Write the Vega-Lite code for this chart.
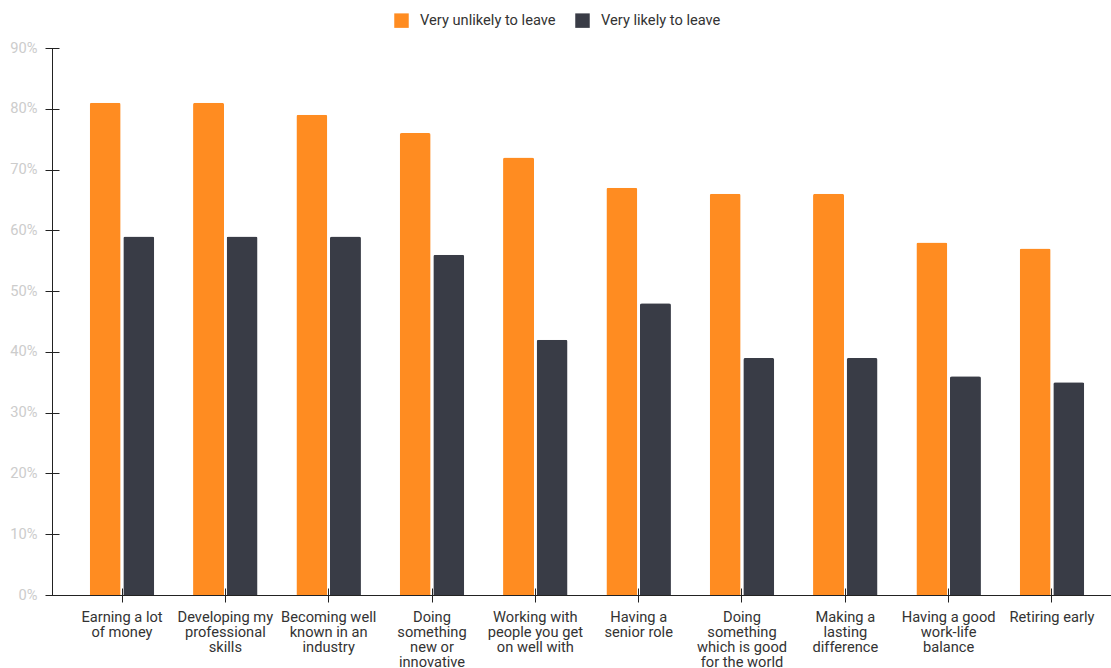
{
  "$schema": "https://vega.github.io/schema/vega-lite/v6.json",
  "width": 1070,
  "height": 547,
  "autosize": {"type": "none"},
  "padding": {"left": 52, "top": 48, "right": 0, "bottom": 73},
  "config": {"view": {"stroke": null}, "font": "Roboto"},
  "data": {
    "values": [
      {"category": "Earning a lot of money", "series": "Very unlikely to leave", "value": 81},
      {"category": "Earning a lot of money", "series": "Very likely to leave", "value": 59},
      {"category": "Developing my professional skills", "series": "Very unlikely to leave", "value": 81},
      {"category": "Developing my professional skills", "series": "Very likely to leave", "value": 59},
      {"category": "Becoming well known in an industry", "series": "Very unlikely to leave", "value": 79},
      {"category": "Becoming well known in an industry", "series": "Very likely to leave", "value": 59},
      {"category": "Doing something new or innovative", "series": "Very unlikely to leave", "value": 76},
      {"category": "Doing something new or innovative", "series": "Very likely to leave", "value": 56},
      {"category": "Working with people you get on well with", "series": "Very unlikely to leave", "value": 72},
      {"category": "Working with people you get on well with", "series": "Very likely to leave", "value": 42},
      {"category": "Having a senior role", "series": "Very unlikely to leave", "value": 67},
      {"category": "Having a senior role", "series": "Very likely to leave", "value": 48},
      {"category": "Doing something which is good for the world", "series": "Very unlikely to leave", "value": 66},
      {"category": "Doing something which is good for the world", "series": "Very likely to leave", "value": 39},
      {"category": "Making a lasting difference", "series": "Very unlikely to leave", "value": 66},
      {"category": "Making a lasting difference", "series": "Very likely to leave", "value": 39},
      {"category": "Having a good work-life balance", "series": "Very unlikely to leave", "value": 58},
      {"category": "Having a good work-life balance", "series": "Very likely to leave", "value": 36},
      {"category": "Retiring early", "series": "Very unlikely to leave", "value": 57},
      {"category": "Retiring early", "series": "Very likely to leave", "value": 35}
    ]
  },
  "layer": [
    {
      "mark": {"type": "bar", "cornerRadiusTopLeft": 2, "cornerRadiusTopRight": 2},
      "encoding": {
        "x": {
          "field": "category", "type": "nominal", "sort": null, "title": null,
          "scale": {"paddingInner": 0.375, "paddingOuter": 0.365},
          "axis": {
            "orient": "bottom", "offset": -7, "tickSize": 14, "domain": false, "labelAngle": 0,
            "labelExpr": "({'Earning a lot of money': ['Earning a lot','of money'], 'Developing my professional skills': ['Developing my','professional','skills'], 'Becoming well known in an industry': ['Becoming well','known in an','industry'], 'Doing something new or innovative': ['Doing','something','new or','innovative'], 'Working with people you get on well with': ['Working with','people you get','on well with'], 'Having a senior role': ['Having a','senior role'], 'Doing something which is good for the world': ['Doing','something','which is good','for the world'], 'Making a lasting difference': ['Making a','lasting','difference'], 'Having a good work-life balance': ['Having a good','work-life','balance'], 'Retiring early': ['Retiring early']})[datum.label]",
            "labelFontSize": 14.67, "labelColor": "#333333", "tickColor": "#222222", "labelPadding": 7,
            "labelLineHeight": 15, "labelLimit": 0, "labelBaseline": "top"
          }
        },
        "xOffset": {"field": "series", "type": "nominal", "sort": ["Very unlikely to leave", "Very likely to leave"], "scale": {"paddingInner": 0.077}},
        "y": {
          "field": "value", "type": "quantitative", "title": null,
          "scale": {"domain": [0, 90]},
          "axis": {
            "values": [0, 10, 20, 30, 40, 50, 60, 70, 80, 90], "offset": -7, "tickSize": 14, "domain": false,
            "grid": false, "labelExpr": "datum.value + '%'", "labelColor": "#cccccc", "labelFontSize": 14.67,
            "labelPadding": 8, "tickColor": "#222222"
          }
        },
        "color": {
          "field": "series", "type": "nominal", "sort": ["Very unlikely to leave", "Very likely to leave"],
          "scale": {"range": ["#FF8C21", "#393C46"]},
          "legend": {
            "orient": "none", "legendX": 342, "legendY": -35, "direction": "horizontal", "title": null,
            "symbolType": "square", "symbolSize": 210, "labelFontSize": 14.67, "labelColor": "#333333",
            "columnPadding": 19, "labelOffset": 11, "symbolStrokeWidth": 0, "padding": 0
          }
        }
      }
    },
    {
      "mark": {"type": "bar", "opacity": 0},
      "encoding": {
        "x": {
          "field": "category", "type": "nominal", "sort": null, "title": null,
          "axis": {"orient": "bottom", "ticks": false, "labels": false, "domain": true, "domainColor": "#222222"}
        },
        "y": {
          "field": "value", "type": "quantitative", "title": null,
          "axis": {"orient": "left", "ticks": false, "labels": false, "domain": true, "grid": false, "domainColor": "#222222"}
        }
      }
    }
  ],
  "resolve": {"axis": {"x": "independent", "y": "independent"}}
}
